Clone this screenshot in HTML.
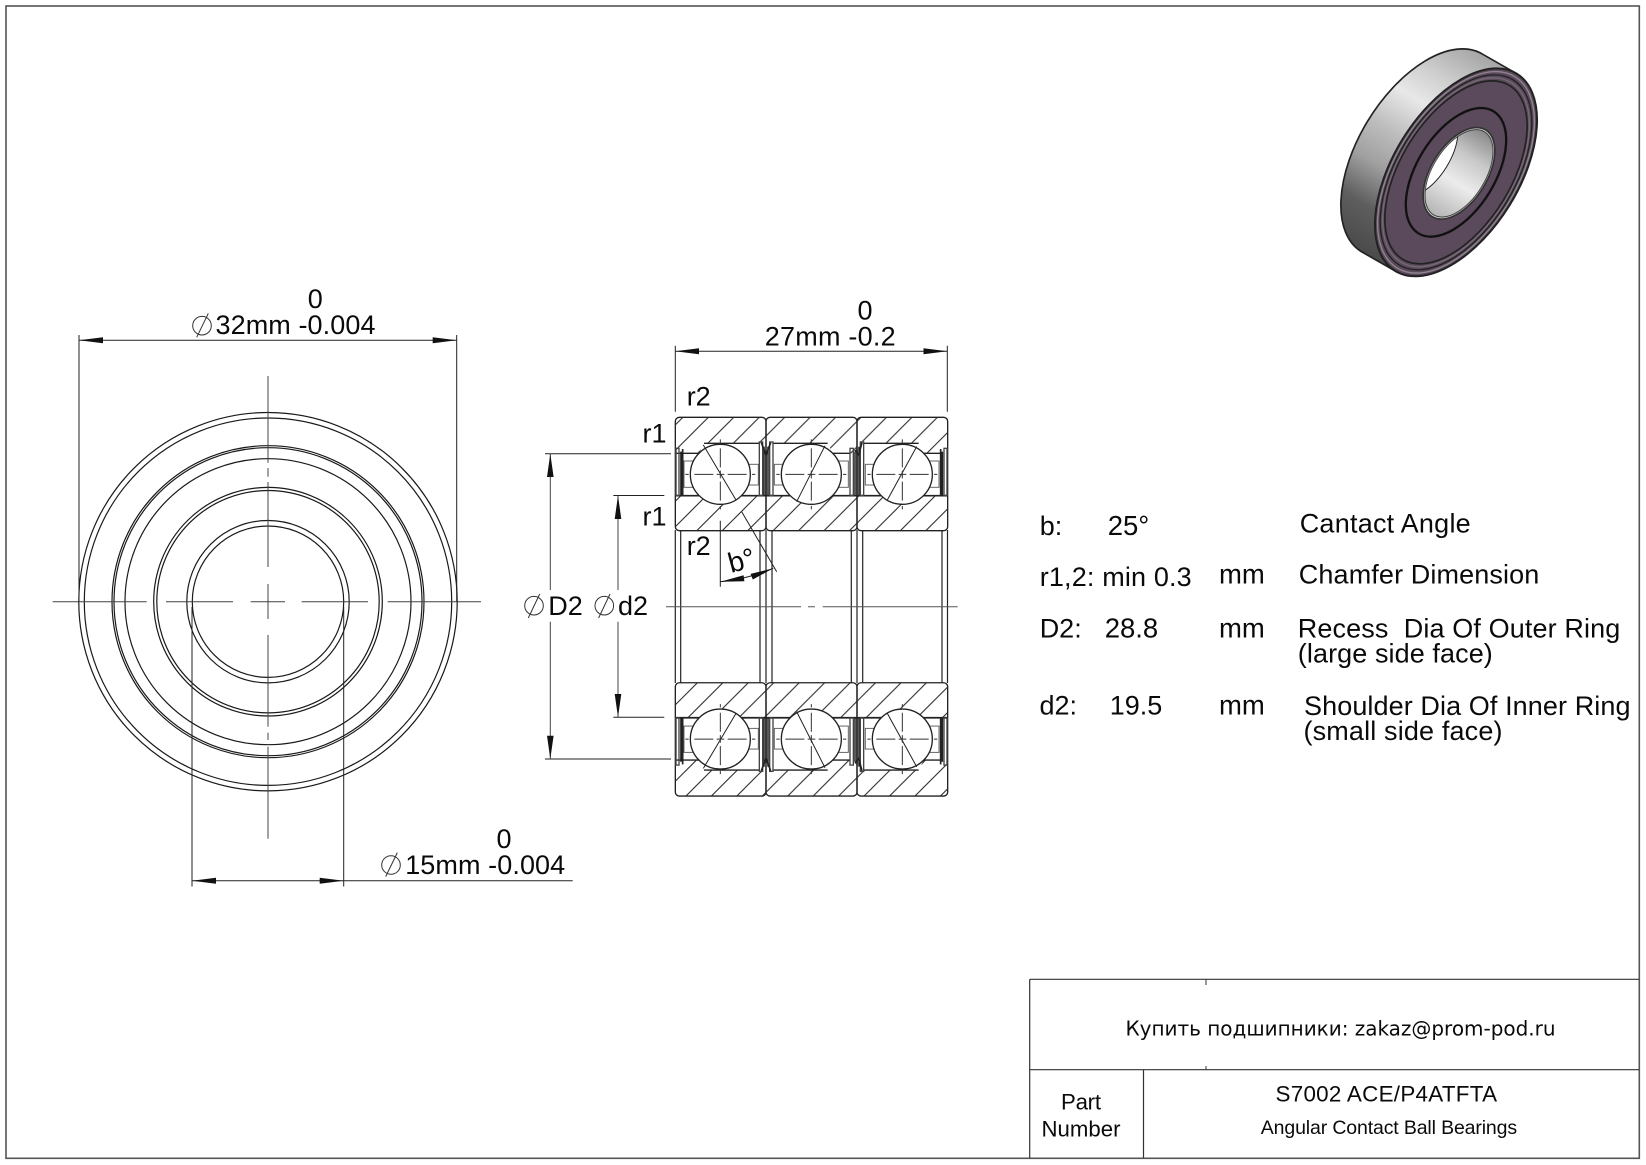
<!DOCTYPE html>
<html>
<head>
<meta charset="utf-8">
<style>
html,body{margin:0;padding:0;background:#fff;}
svg{display:block;position:absolute;left:0;top:0;}
text{font-family:"Liberation Sans","DejaVu Sans",sans-serif;fill:#0a0a0a;}
</style>
</head>
<body>
<svg width="1646" height="1165" viewBox="0 0 1646 1165" xmlns="http://www.w3.org/2000/svg">
<defs>
  <pattern id="h" patternUnits="userSpaceOnUse" x="5.87" y="0" width="25.45" height="25.45">
    <line x1="0" y1="25.45" x2="25.45" y2="0" stroke="#222" stroke-width="1"/>
    <line x1="-2" y1="2" x2="2" y2="-2" stroke="#222" stroke-width="1"/>
    <line x1="23.45" y1="27.45" x2="27.45" y2="23.45" stroke="#222" stroke-width="1"/>
  </pattern>
  <linearGradient id="body" gradientUnits="userSpaceOnUse" x1="560" y1="90" x2="190" y2="700">
    <stop offset="0" stop-color="#a0a0a0"/>
    <stop offset=".2" stop-color="#cfcfcf"/>
    <stop offset=".33" stop-color="#e8e8e8"/>
    <stop offset=".5" stop-color="#bdbdbd"/>
    <stop offset=".65" stop-color="#a0a0a0"/>
    <stop offset=".82" stop-color="#5e5e5e"/>
    <stop offset="1" stop-color="#4a4a4a"/>
  </linearGradient>
  <linearGradient id="bore" gradientUnits="userSpaceOnUse" x1="146" y1="0" x2="-146" y2="0">
    <stop offset="0" stop-color="#8a8a8a"/>
    <stop offset=".3" stop-color="#c8c8c8"/>
    <stop offset=".6" stop-color="#ececec"/>
    <stop offset="1" stop-color="#b5b5b5"/>
  </linearGradient>
  <clipPath id="boreclip"><ellipse cx="0" cy="0" rx="146" ry="79"/></clipPath>
  <path id="cross" fill="none" stroke="#333" stroke-width="3" d="M0-105V-95M0-78V-21M0-11V12M0 22V79M0 95V105M-105 0H-95M-78 0H-21M-11 0H12M22 0H79M95 0H105"/>
  <g id="sec">
    <g transform="translate(640 380) scale(.33333)">
      <polygon fill="#fff" points="108,220 177,220 192,190 378,190 378,347 108,347"/>
      <polygon fill="#fff" points="378,190 563,190 578,220 651,220 651,347 378,347"/>
      <polygon fill="#fff" points="651,190 836,190 851,220 923,220 923,347 651,347"/>
      <g fill="none" stroke="#222" stroke-width="4">
        <rect x="106" y="112" width="272" height="340" rx="12"/>
        <rect x="378" y="112" width="273" height="340" rx="12"/>
        <rect x="651" y="112" width="272" height="340" rx="12"/>
        <path d="M108 220H177M192 190H358M400 190H563M578 220H630M672 190H836M851 220H900"/>
        <path d="M106 347H923" stroke-width="5"/>
      </g>
      <g fill="#fff" stroke="#666" stroke-width="3">
        <rect x="132" y="243" width="30" height="79"/>
        <rect x="325" y="253" width="30" height="62"/>
        <rect x="403" y="253" width="30" height="62"/>
        <rect x="596" y="243" width="29" height="79"/>
        <rect x="676" y="253" width="30" height="62"/>
        <rect x="868" y="243" width="29" height="79"/>
      </g>
      <g fill="none" stroke="#222" stroke-width="4">
        <rect x="108" y="205" width="9" height="141" stroke="#444"/>
        <path d="M123 215V346M128 207V346" stroke-width="5"/>
        <rect x="358" y="186" width="10" height="160" stroke="#444"/>
        <rect x="389" y="186" width="10" height="160" stroke="#444"/>
        <path d="M372 200V346M378 215V346M384 200V346" stroke-width="4.5" stroke="#222"/>
        <path d="M364 188L378 225L392 188" stroke-width="5" stroke="#222"/>
        <rect x="630" y="205" width="10" height="141" stroke="#444"/>
        <rect x="661" y="186" width="10" height="160" stroke="#444"/>
        <path d="M645 215V346M651 205V346M657 200V346" stroke-width="4.5" stroke="#222"/>
        <path d="M645 210L656 225L666 188" stroke-width="5" stroke="#222"/>
        <rect x="912" y="205" width="9" height="141" stroke="#444"/>
        <path d="M902 207V346M907 215V346" stroke-width="5"/>
      </g>
      <g fill="#fff" stroke="#222" stroke-width="4">
        <circle cx="241" cy="283" r="90"/>
        <circle cx="514" cy="283" r="90"/>
        <circle cx="787" cy="283" r="90"/>
      </g>
      <path d="M190 195L288 360M555 197L470 365M830 200L742 360" stroke="#222" stroke-width="3" fill="none"/>
      <use href="#cross" transform="translate(241 283)"/>
      <use href="#cross" transform="translate(514 283)"/>
      <use href="#cross" transform="translate(787 283)"/>
    </g>
  </g>
</defs>

<rect width="1646" height="1165" fill="#fff"/>
<rect x="6" y="6" width="1633.3" height="1152.3" fill="none" stroke="#555" stroke-width="1.6"/>

<!-- LEFT VIEW -->
<g fill="none" stroke="#1a1a1a" stroke-width="1.2">
  <circle cx="268" cy="601.7" r="189.2"/>
  <circle cx="268" cy="601.7" r="183.7"/>
  <circle cx="268" cy="601.7" r="156"/>
  <circle cx="268" cy="601.7" r="154"/>
  <circle cx="268" cy="601.7" r="143"/>
  <circle cx="268" cy="601.7" r="114.3"/>
  <circle cx="268" cy="601.7" r="111.2"/>
  <circle cx="268" cy="601.7" r="81.2"/>
  <circle cx="268" cy="601.7" r="75.7"/>
</g>
<path fill="none" stroke="#444" stroke-width="1" d="M268 376V462.7M268 468V476.7M268 482V567M268 584V619M268 635V726.7M268 732.7V740M268 746.7V838.7M52.7 601.7H146.7M166 601.7H233M250.7 601.7H285M301.7 601.7H368M387.7 601.7H481"/>
<path fill="none" stroke="#222" stroke-width="1" d="M79 335V602M456.7 335V602M79 340.3H456.7"/>
<polygon fill="#111" points="79,340.3 103,337.3 103,343.3"/>
<polygon fill="#111" points="456.7,340.3 432.7,337.3 432.7,343.3"/>
<text x="315.3" y="308" font-size="27" text-anchor="middle">0</text>
<text x="215.5" y="334" font-size="27" textLength="160">32mm -0.004</text>
<g fill="none" stroke="#333" stroke-width="1"><circle cx="202" cy="325.7" r="9.3"/><line x1="196.7" y1="337.3" x2="208.3" y2="313.3"/></g>
<path fill="none" stroke="#222" stroke-width="1" d="M192 607V886.5M343.7 607V886.5M192 880.7H572.7"/>
<polygon fill="#111" points="192,880.7 216,877.7 216,883.7"/>
<polygon fill="#111" points="343.7,880.7 319.7,877.7 319.7,883.7"/>
<text x="504" y="848" font-size="27" text-anchor="middle">0</text>
<text x="405.2" y="874" font-size="27" textLength="160">15mm -0.004</text>
<g fill="none" stroke="#333" stroke-width="1"><circle cx="391" cy="865" r="9.3"/><line x1="385.7" y1="876.6" x2="397.3" y2="852.6"/></g>

<!-- SECTION VIEW -->
<rect x="675.3" y="417.3" width="272.4" height="113.4" rx="4" fill="url(#h)"/>
<rect x="675.3" y="682.7" width="272.4" height="113.4" rx="4" fill="url(#h)"/>
<use href="#sec"/>
<use href="#sec" transform="translate(0 1213.4) scale(1 -1)"/>
<path fill="none" stroke="#222" stroke-width="1.2" d="M675.3 530V683M680.7 530V683M760 530V683M766 530V683M772 530V683M851.3 530V683M857 530V683M862.7 530V683M942 530V683M947.5 530V683"/>
<path fill="none" stroke="#555" stroke-width="1" d="M666 606.7H801M808 606.7H815M822.7 606.7H957.7"/>
<path fill="none" stroke="#222" stroke-width="1" d="M675.3 345.7V411.7M947.3 345.7V411.7M675.3 351.3H947.3"/>
<polygon fill="#111" points="675.3,351.3 699,348.3 699,354.3"/>
<polygon fill="#111" points="947.3,351.3 923.5,348.3 923.5,354.3"/>
<text x="865" y="319.3" font-size="27" text-anchor="middle">0</text>
<text x="764.7" y="345.7" font-size="27" textLength="131">27mm -0.2</text>
<text x="686.7" y="405.7" font-size="27">r2</text>
<text x="642.5" y="442.7" font-size="27">r1</text>
<text x="642.5" y="525.5" font-size="27">r1</text>
<text x="686.7" y="555" font-size="27">r2</text>
<path fill="none" stroke="#222" stroke-width="1" d="M545 453.7H671M545 759H671M613.3 495.5H664.3M613.3 717.3H664.3"/>
<path fill="none" stroke="#444" stroke-width="1" d="M550.3 453.7V590M550.3 621.7V759M618 495.5V590M618 621.7V717.3"/>
<polygon fill="#111" points="550.3,453.7 547,477 553.6,477"/>
<polygon fill="#111" points="550.3,759 547,735.7 553.6,735.7"/>
<polygon fill="#111" points="618,495.5 614.7,519 621.3,519"/>
<polygon fill="#111" points="618,717.3 614.7,694 621.3,694"/>
<text x="548.3" y="615" font-size="27">D2</text>
<text x="618" y="615" font-size="27">d2</text>
<g fill="none" stroke="#333" stroke-width="1">
  <circle cx="534" cy="605.7" r="9.3"/><line x1="528.3" y1="618" x2="539.7" y2="594"/>
  <circle cx="604.3" cy="605.7" r="9.3"/><line x1="598.6" y1="618" x2="610" y2="594"/>
</g>
<path fill="none" stroke="#222" stroke-width="1" d="M720.3 520.7V586.7M741.7 511.7L776.7 571.7M720.3 581.7Q748 579 773.3 568.3"/>
<polygon fill="#111" points="720.3,581.7 744.4,581.3 743.6,575.3"/>
<polygon fill="#111" points="773.3,568.3 752.8,579.5 750.6,573.9"/>
<text x="0" y="0" font-size="28" transform="translate(731 573) rotate(-15)">b°</text>

<!-- SPEC TEXT -->
<g font-size="27">
  <text x="1039.7" y="535">b:</text>
  <text x="1107.7" y="535" font-size="27.5">25°</text>
  <text x="1039.7" y="586" textLength="152">r1,2: min 0.3</text>
  <text x="1219" y="583.3" font-size="27.5">mm</text>
  <text x="1039.7" y="637.7">D2:</text>
  <text x="1104.7" y="637.7" font-size="27.5">28.8</text>
  <text x="1219" y="637.7" font-size="27.5">mm</text>
  <text x="1039.5" y="714.3">d2:</text>
  <text x="1109.7" y="714.3" font-size="27">19.5</text>
  <text x="1219" y="714.3" font-size="27.5">mm</text>
  <text x="1299.7" y="532.5" textLength="171">Cantact Angle</text>
  <text x="1298.8" y="583.3" textLength="240.5">Chamfer Dimension</text>
  <text x="1297.8" y="637.3" textLength="322.5" xml:space="preserve" style="white-space:pre">Recess  Dia Of Outer Ring</text>
  <text x="1297.8" y="662.7" textLength="195">(large side face)</text>
  <text x="1304" y="715" textLength="326.5">Shoulder Dia Of Inner Ring</text>
  <text x="1303.5" y="740" textLength="199">(small side face)</text>
</g>

<!-- TITLE BLOCK -->
<path fill="none" stroke="#333" stroke-width="1.2" d="M1029.7 979.3H1639M1029.7 979.3V1158M1029.7 1069.7H1639M1143.5 1069.7V1158"/>
<path fill="none" stroke="#333" stroke-width="1" d="M1206 979.3V985M1206 1066V1069.7"/>
<text x="1125.5" y="1035.5" font-size="20" textLength="430" style="font-family:'DejaVu Sans',sans-serif">Купить подшипники: zakaz@prom-pod.ru</text>
<text x="1275.5" y="1101.7" font-size="22.4" textLength="221.5">S7002 ACE/P4ATFTA</text>
<text x="1260.8" y="1134" font-size="19.5" textLength="256.3">Angular Contact Ball Bearings</text>
<text x="1061" y="1109.3" font-size="22.2" textLength="40">Part</text>
<text x="1041.5" y="1136.7" font-size="22.2" textLength="79">Number</text>

<!-- 3D BEARING -->
<g transform="translate(1300 20) scale(.33333)">
  <path d="M542.6 99.5 A347.6 188.6 -58.3 0 0 183.4 694.5 L288.4 754.5 L647.6 159.5 Z" fill="url(#body)" stroke="#222" stroke-width="5" stroke-linejoin="round"/>
  <g transform="translate(468 457) rotate(-58.3)">
    <ellipse rx="347.6" ry="188.6" fill="#5b4a5c" stroke="#222" stroke-width="6"/>
    <ellipse rx="337" ry="182" fill="none" stroke="#8f868f" stroke-width="4"/>
    <ellipse rx="326" ry="176" fill="#5b4a5c" stroke="#222" stroke-width="4"/>
    <ellipse rx="316" ry="170" fill="none" stroke="#766a76" stroke-width="4"/>
    <ellipse rx="306" ry="165" fill="#5b4a5c" stroke="#222" stroke-width="5"/>
    <ellipse rx="215" ry="117" fill="#5b4a5c" stroke="#111" stroke-width="7"/>
  </g>
  <g transform="translate(477 460) rotate(-58.3)">
    <ellipse rx="153" ry="84" fill="#c5c5c5" stroke="#333" stroke-width="5"/>
    <ellipse rx="146" ry="79" fill="url(#bore)" stroke="none"/>
  </g>
  <g transform="translate(477 460) rotate(-58.3)" clip-path="url(#boreclip)">
    <ellipse cx="-4" cy="-121" rx="146" ry="79" fill="#fff" stroke="#222" stroke-width="3"/>
  </g>
  <g transform="translate(477 460) rotate(-58.3)"><ellipse rx="146" ry="79" fill="none" stroke="#444" stroke-width="3"/></g>
</g>
</svg>
</body>
</html>
